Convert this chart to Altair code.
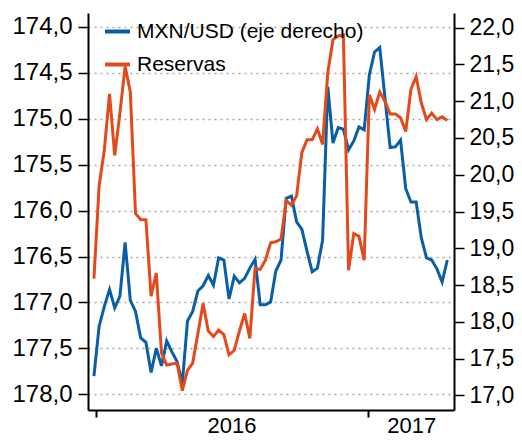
import altair as alt
import pandas as pd

# ---------------- data ----------------
start_date = "2015-12-29"   # weekly observations
reservas = [176.74, 175.73, 175.34, 174.73, 175.40, 174.94, 174.43, 174.71, 176.03, 176.10,
            176.10, 176.93, 176.68, 177.55, 177.68, 177.67, 177.66, 177.96, 177.74, 177.66,
            177.34, 177.01, 177.31, 177.37, 177.30, 177.35, 177.57, 177.52, 177.31, 177.12,
            177.39, 176.63, 176.64, 176.54, 176.35, 176.34, 176.31, 175.89, 175.94, 175.84,
            175.37, 175.23, 175.23, 175.11, 175.28, 174.50, 174.14, 174.10, 174.09, 176.65,
            176.25, 176.28, 176.54, 174.74, 174.90, 174.71, 174.81, 174.95, 174.95, 174.99,
            175.14, 174.68, 174.54, 174.83, 175.01, 174.94, 175.01, 174.98, 175.02]
mxn_usd = [17.26, 17.94, 18.21, 18.44, 18.19, 18.35, 19.08, 18.29, 18.14, 17.78,
           17.72, 17.31, 17.64, 17.40, 17.74, 17.59, 17.46, 17.16, 18.01, 18.14,
           18.42, 18.49, 18.63, 18.50, 18.87, 18.84, 18.31, 18.62, 18.53, 18.59,
           18.73, 18.85, 18.23, 18.23, 18.27, 18.69, 18.84, 19.68, 19.71, 19.36,
           19.26, 18.96, 18.68, 18.73, 19.11, 21.20, 20.43, 20.64, 20.62, 20.34,
           20.46, 20.65, 20.61, 21.36, 21.67, 21.73, 21.05, 20.37, 20.38, 20.47,
           19.81, 19.63, 19.63, 19.14, 18.87, 18.84, 18.72, 18.54, 18.84]
series_names = ["MXN/USD (eje derecho)", "Reservas"]
left_ticks = [174.0, 174.5, 175.0, 175.5, 176.0, 176.5, 177.0, 177.5, 178.0]
right_ticks = [17.0, 17.5, 18.0, 18.5, 19.0, 19.5, 20.0, 20.5, 21.0, 21.5, 22.0]
year_labels = ["2016", "2017"]
year_label_dates = ["2016-07-02", "2017-03-01"]

dates = pd.date_range(start_date, periods=len(reservas), freq="7D").strftime("%Y-%m-%d")
df_res = pd.DataFrame({"date": dates, "value": reservas, "serie": series_names[1]})
df_mxn = pd.DataFrame({"date": dates, "value": mxn_usd, "serie": series_names[0]})
df_years = pd.DataFrame({"date": year_label_dates, "label": year_labels})

# ---------------- style ----------------
BLUE = "#0A5EA6"
ORANGE = "#E24A1C"
FONT = "Liberation Sans"
W, H = 366, 397
label_expr = "replace(format(datum.value, '.1f'), '.', ',')"

x_scale = alt.Scale(domain=[alt.DateTime(year=2015, month=12, date=21),
                            alt.DateTime(year=2017, month=4, date=27)])
x_axis = alt.Axis(values=[alt.DateTime(year=2016, month=1, date=1),
                          alt.DateTime(year=2017, month=1, date=1)],
                  labels=False, ticks=True, tickSize=7, tickWidth=2, tickColor="black",
                  domainColor="black", domainWidth=2, grid=False, title=None)
x_enc = alt.X("date:T", scale=x_scale, axis=x_axis)

color_enc = alt.Color("serie:N",
                      scale=alt.Scale(domain=series_names, range=[BLUE, ORANGE]),
                      legend=alt.Legend(orient="none", legendX=15, legendY=4, title=None,
                                        symbolType="stroke", symbolStrokeWidth=4,
                                        symbolSize=625, labelFontSize=21, labelFont=FONT,
                                        labelColor="black", rowPadding=8, labelOffset=5,
                                        labelLimit=0, padding=0, direction="vertical"))

mxn = alt.Chart(df_mxn).mark_line(strokeWidth=3).encode(
    x=x_enc,
    y=alt.Y("value:Q",
            scale=alt.Scale(domain=[16.8, 22.2], nice=False, zero=False),
            axis=alt.Axis(orient="right", values=right_ticks, labelExpr=label_expr,
                          grid=False, tickSize=10, tickWidth=1.5, tickColor="black",
                          domainColor="black", domainWidth=2, labelFontSize=23,
                          labelFont=FONT, labelColor="black", labelPadding=5, title=None)),
    color=color_enc,
)

res = alt.Chart(df_res).mark_line(strokeWidth=3).encode(
    x=x_enc,
    y=alt.Y("value:Q",
            scale=alt.Scale(domain=[173.85, 178.17], reverse=True, nice=False, zero=False),
            axis=alt.Axis(orient="left", values=left_ticks, labelExpr=label_expr,
                          grid=True, gridColor="#A8A8A8", gridDash=[2, 4], gridWidth=1.5,
                          tickSize=10, tickWidth=1.5, tickColor="black",
                          domainColor="black", domainWidth=2, labelFontSize=24,
                          labelFont=FONT, labelColor="black", labelPadding=6, title=None)),
    color=color_enc,
)

years = alt.Chart(df_years).mark_text(fontSize=22, font=FONT, color="black",
                                      baseline="alphabetic", align="center").encode(
    x=x_enc,
    y=alt.value(H + 23),
    text="label:N",
)

chart = alt.layer(mxn, res, years).resolve_scale(y="independent").properties(
    width=W, height=H,
    autosize=alt.AutoSizeParams(type="none"),
    padding={"left": 80, "top": 5, "right": 60, "bottom": 28},
).configure_view(stroke=None)

chart.save("out.html", embed_options={"renderer": "svg", "actions": False})
